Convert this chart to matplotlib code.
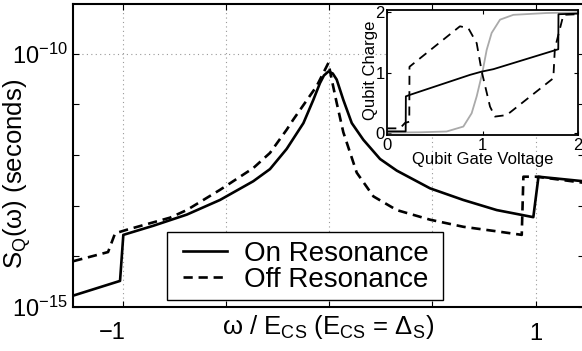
import numpy as np
import matplotlib
matplotlib.use("Agg")
import matplotlib.pyplot as plt
from matplotlib.patches import Rectangle
from matplotlib.ticker import FixedLocator, FixedFormatter

plt.rcParams["font.family"] = ["Liberation Sans", "DejaVu Sans"]
plt.rcParams["mathtext.fontset"] = "custom"
plt.rcParams["mathtext.rm"] = "Liberation Sans"
plt.rcParams["mathtext.it"] = "Liberation Sans:italic"
plt.rcParams["mathtext.default"] = "regular"

# main panel: noise spectrum, omega in units of E_CS, values as log10(S_Q / s)
on_omega = [-1.238, -1.012, -0.996, -0.851, -0.689, -0.528, -0.367, -0.286,
            -0.205, -0.124, -0.076, -0.044, -0.025, -0.003, 0.018, 0.037,
            0.069, 0.110, 0.166, 0.247, 0.328, 0.489, 0.650, 0.812, 0.989,
            1.014, 1.232]
on_log10S = [-14.78, -14.49, -13.58, -13.40, -13.18, -12.89, -12.52, -12.28,
             -11.88, -11.37, -10.91, -10.58, -10.43, -10.35, -10.39, -10.51,
             -10.91, -11.37, -11.70, -12.08, -12.31, -12.66, -12.89, -13.09,
             -13.23, -12.43, -12.52]

off_omega = [-1.238, -1.070, -1.036, -0.980, -0.770, -0.689, -0.528, -0.367,
             -0.286, -0.205, -0.173, -0.060, -0.003, 0.013, 0.037, 0.069,
             0.134, 0.215, 0.328, 0.489, 0.650, 0.812, 0.933, 0.941, 1.006,
             1.232]
off_log10S = [-14.10, -13.92, -13.55, -13.48, -13.24, -13.09, -12.69, -12.26,
              -11.96, -11.50, -11.30, -10.64, -10.18, -10.51, -10.97, -11.55,
              -12.35, -12.82, -13.09, -13.28, -13.42, -13.51, -13.58, -12.43,
              -12.43, -12.55]

# inset: qubit charge vs gate voltage
inset_solid_v = [0.0, 0.193, 0.195, 0.238, 0.869, 0.992, 1.114, 1.796, 1.798, 2.0]
inset_solid_q = [0.03, 0.03, 0.61, 0.635, 0.966, 1.02, 1.06, 1.39, 1.97, 1.98]

inset_dash_v = [0.0, 0.133, 0.186, 0.231, 0.233, 0.763, 0.851, 0.939, 0.992,
                1.079, 1.131, 1.254, 1.744, 1.760, 1.85, 2.0]
inset_dash_q = [0.08, 0.08, 0.17, 0.19, 1.10, 1.77, 1.74, 1.49, 1.02,
                0.44, 0.275, 0.30, 0.91, 1.40, 1.96, 1.97]

inset_gray_v = [0.0, 0.35, 0.623, 0.799, 0.886, 0.939, 0.998, 1.044, 1.096,
                1.184, 1.324, 1.674, 2.0]
inset_gray_q = [0.01, 0.015, 0.028, 0.11, 0.33, 0.61, 1.0, 1.38, 1.66,
                1.88, 1.96, 1.99, 2.0]

fig = plt.figure(figsize=(5.82, 3.51), dpi=100)
ax = fig.add_axes([73 / 582, 44.3 / 351, 510.5 / 582, 302.7 / 351])

ax.semilogy(on_omega, 10.0 ** np.array(on_log10S), color="k", lw=1.9,
            label="On Resonance")
ax.semilogy(off_omega, 10.0 ** np.array(off_log10S), color="k", lw=1.9,
            dashes=(3.5, 2.2), label="Off Resonance")

ax.set_xlim(-1.2397, 1.232)
ax.set_ylim(1e-15, 10 ** -9.016)

ax.xaxis.set_major_locator(FixedLocator([-1, -0.5, 0, 0.5, 1]))
ax.xaxis.set_major_formatter(FixedFormatter(["", "", "", "", "1"]))
ax.yaxis.set_major_locator(FixedLocator([1e-15, 1e-14, 1e-13, 1e-12, 1e-11, 1e-10]))
ax.yaxis.set_major_formatter(FixedFormatter(
    ["$10^{-15}$", "", "", "", "", "$10^{-10}$"]))
ax.yaxis.set_minor_locator(FixedLocator([]))
ax.tick_params(direction="in", top=True, right=True, length=4, width=0.8,
               labelsize=17)
ax.tick_params(axis="x", pad=12)
ax.tick_params(axis="y", pad=4)
# the -1 label sits a little left of its tick in the original
ax.annotate("\u22121", xy=(-1, 0), xycoords=("data", "axes fraction"),
            xytext=(-10, -15.5), textcoords="offset pixels",
            ha="center", va="top", fontsize=17)

for x in [-1, -0.5, 0, 0.5, 1]:
    ax.axvline(x, color="#999999", lw=0.8, ls=(0, (1, 3)), zorder=0)
ax.axhline(1e-10, color="#999999", lw=0.8, ls=(0, (1, 3)), zorder=0)

for s in ax.spines.values():
    s.set_linewidth(1.5)

ax.set_xlabel("\u03c9 / E$_{CS}$ (E$_{CS}$ = \u0394$_S$)", fontsize=18.5)
ax.xaxis.set_label_coords(0.5, -0.02)
ax.set_ylabel("S$_Q$(\u03c9) (seconds)", fontsize=18.5)
ax.yaxis.set_label_coords(-0.078, 0.437)

# legend box drawn by hand: wide side padding, tight rows like the original
ax.add_patch(Rectangle((0.1847, 0.022), 0.5407, 0.2256, transform=ax.transAxes,
                       facecolor="white", edgecolor="k", lw=1.0, zorder=4))
leg = ax.legend(loc="center left", bbox_to_anchor=(0.2155, 0.132),
                borderaxespad=0, borderpad=0, fontsize=20, frameon=False,
                handlelength=1.6, handletextpad=0.6, labelspacing=0.0)
leg.set_zorder(5)

# inset
ins = fig.add_axes([387.3 / 582, 216 / 351, 190.4 / 582, 125 / 351])
ins.plot(inset_gray_v, inset_gray_q, color="#aaaaaa", lw=1.3)
ins.plot(inset_dash_v, inset_dash_q, color="k", lw=1.3, dashes=(5, 3.5))
ins.plot(inset_solid_v, inset_solid_q, color="k", lw=1.3)
ins.set_xlim(0, 2)
ins.set_ylim(-0.03, 2.04)
ins.set_xticks([0, 1, 2])
ins.set_yticks([0, 1, 2])
ins.tick_params(direction="in", top=True, right=True, length=3, width=0.8,
                labelsize=12, pad=2)
for s in ins.spines.values():
    s.set_linewidth(1.3)
ins.set_xlabel("Qubit Gate Voltage", fontsize=12)
ins.xaxis.set_label_coords(0.5, -0.134)
ins.set_ylabel("Qubit Charge", fontsize=12)
ins.yaxis.set_label_coords(-0.047, 0.52)

fig.savefig("out.png", dpi=100)
